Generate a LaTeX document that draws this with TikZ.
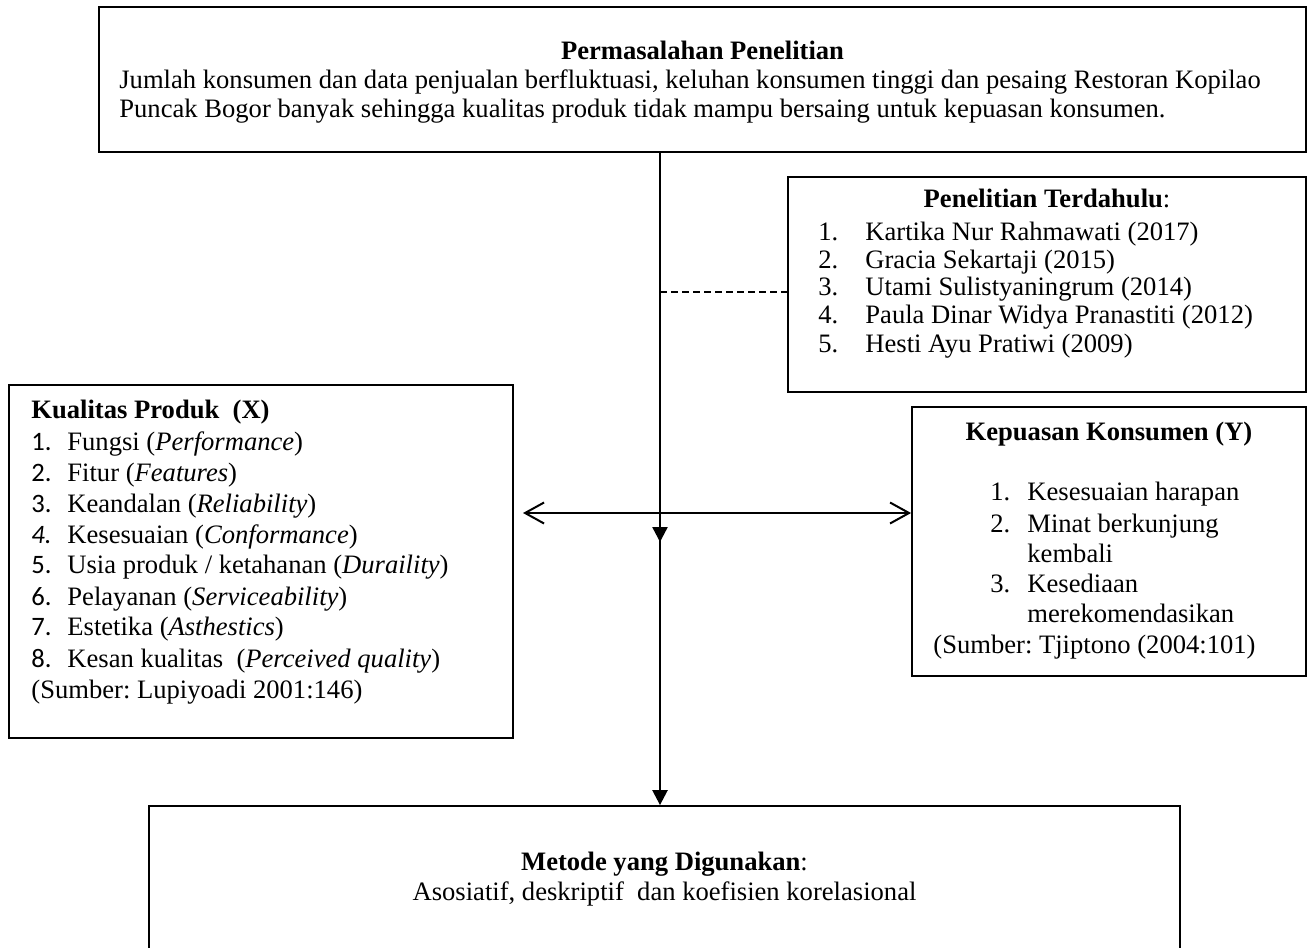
\documentclass[tikz,border=0pt]{standalone}
\usepackage{fontspec}
\setmainfont{Liberation Serif}
\newfontfamily\calfont{Carlito}
\usetikzlibrary{arrows.meta}
\frenchspacing
\begin{document}
\begin{tikzpicture}[x=0.5pt,y=-0.5pt,
  box/.style={draw,line width=0.9pt,rectangle,inner sep=0pt},
  txt/.style={inner sep=0pt,anchor=mid west,font=\fontsize{13.3}{15}\selectfont},
  ctxt/.style={inner sep=0pt,anchor=mid,font=\fontsize{13.3}{15}\selectfont},
  num/.style={inner sep=0pt,anchor=mid west,font=\fontsize{13.3}{15}\calfont},
  conn/.style={line width=1.2pt},
  tri/.style={-{Triangle[width=7.5pt,length=7.5pt]}},
]
\clip (0,0) rectangle (1308,948);
% boxes
\node[box, minimum width=603.5pt, minimum height=72.5pt] (pp) at (702.5,79.5) {};
\node[box, minimum width=259pt, minimum height=107.5pt] (pt) at (1047,284.5) {};
\node[box, minimum width=252pt, minimum height=176.5pt] (kp) at (261,561.5) {};
\node[box, minimum width=197pt, minimum height=134.5pt] (ky) at (1109,541.5) {};
\node[box, minimum width=515.5pt, minimum height=77pt] (mt) at (664.5,883) {};

% top box text
\node[ctxt] (ppt) at (702.5,55) {\textbf{Permasalahan Penelitian}};
\node[txt] (pp1) at (119,84) {Jumlah konsumen dan data penjualan berfluktuasi, keluhan konsumen tinggi dan pesaing Restoran Kopilao};
\node[txt] (pp2) at (119,113) {Puncak Bogor banyak sehingga kualitas produk tidak mampu bersaing untuk kepuasan konsumen.};

% penelitian terdahulu
\node[ctxt] (ptt) at (1047,203) {\textbf{Penelitian Terdahulu}:};
\foreach \n/\y/\t in {1/236/{Kartika Nur Rahmawati (2017)},2/264/{Gracia Sekartaji (2015)},3/291/{Utami Sulistyaningrum (2014)},4/319/{Paula Dinar Widya Pranastiti (2012)},5/348/{Hesti Ayu Pratiwi (2009)}}{
  \node[txt] (ptn\n) at (818,\y) {\n.};
  \node[txt] (ptx\n) at (865,\y) {\t};
}

% kualitas produk
\node[txt] (kpt) at (31,414) {\textbf{Kualitas Produk\ \ (X)}};
\foreach \n/\y/\t in {1/446/{Fungsi (\textit{Performance})},2/477/{Fitur (\textit{Features})},3/508/{Keandalan (\textit{Reliability})},5/569/{Usia produk / ketahanan (\textit{Duraility})},6/601/{Pelayanan (\textit{Serviceability})},7/631/{Estetika (\textit{Asthestics})},8/663/{Kesan kualitas\ \ (\textit{Perceived quality})}}{
  \node[num] (kpn\n) at (31,\y) {\n.};
  \node[txt] (kpx\n) at (67,\y) {\t};
}
\node[num] (kpn4) at (31,539) {\itshape 4.};
\node[txt] (kpx4) at (67,539) {Kesesuaian (\textit{Conformance})};
\node[txt] (kps) at (31,694) {(Sumber: Lupiyoadi 2001:146)};

% kepuasan konsumen
\node[ctxt] (kyt) at (1109,436) {\textbf{Kepuasan Konsumen (Y)}};
\node[txt] (kyn1) at (990,496) {1.};
\node[txt] (kyx1) at (1027,496) {Kesesuaian harapan};
\node[txt] (kyn2) at (990,528) {2.};
\node[txt] (kyx2) at (1027,528) {Minat berkunjung};
\node[txt] (kyx2b) at (1027,558) {kembali};
\node[txt] (kyn3) at (990,588) {3.};
\node[txt] (kyx3) at (1027,588) {Kesediaan};
\node[txt] (kyx3b) at (1027,618) {merekomendasikan};
\node[txt] (kys) at (933,649) {(Sumber: Tjiptono (2004:101)};

% metode
\node[ctxt] (mtt) at (664.5,866) {\textbf{Metode yang Digunakan}:};
\node[ctxt] (mt1) at (664.5,896) {Asosiatif, deskriptif\ \ dan koefisien korelasional};

% connectors
\coordinate (a1) at (660,542);
\coordinate (a0) at (660,473);
\coordinate (d0) at (660,292);
\coordinate (h0) at (523,513);
\draw[conn,tri] (pp.south -| a1) -- (a1);
\draw[conn,tri] (a0) -- (a0 |- mt.north);
\draw[line width=0.6pt,dash pattern=on 3.5pt off 2pt] (d0) -- (d0 -| pt.west);
\draw[line width=1pt,{Straight Barb[length=9.5pt,width=10.5pt]}-{Straight Barb[length=9.5pt,width=10.5pt]}] (h0) -- (h0 -| ky.west);
\end{tikzpicture}
\end{document}
